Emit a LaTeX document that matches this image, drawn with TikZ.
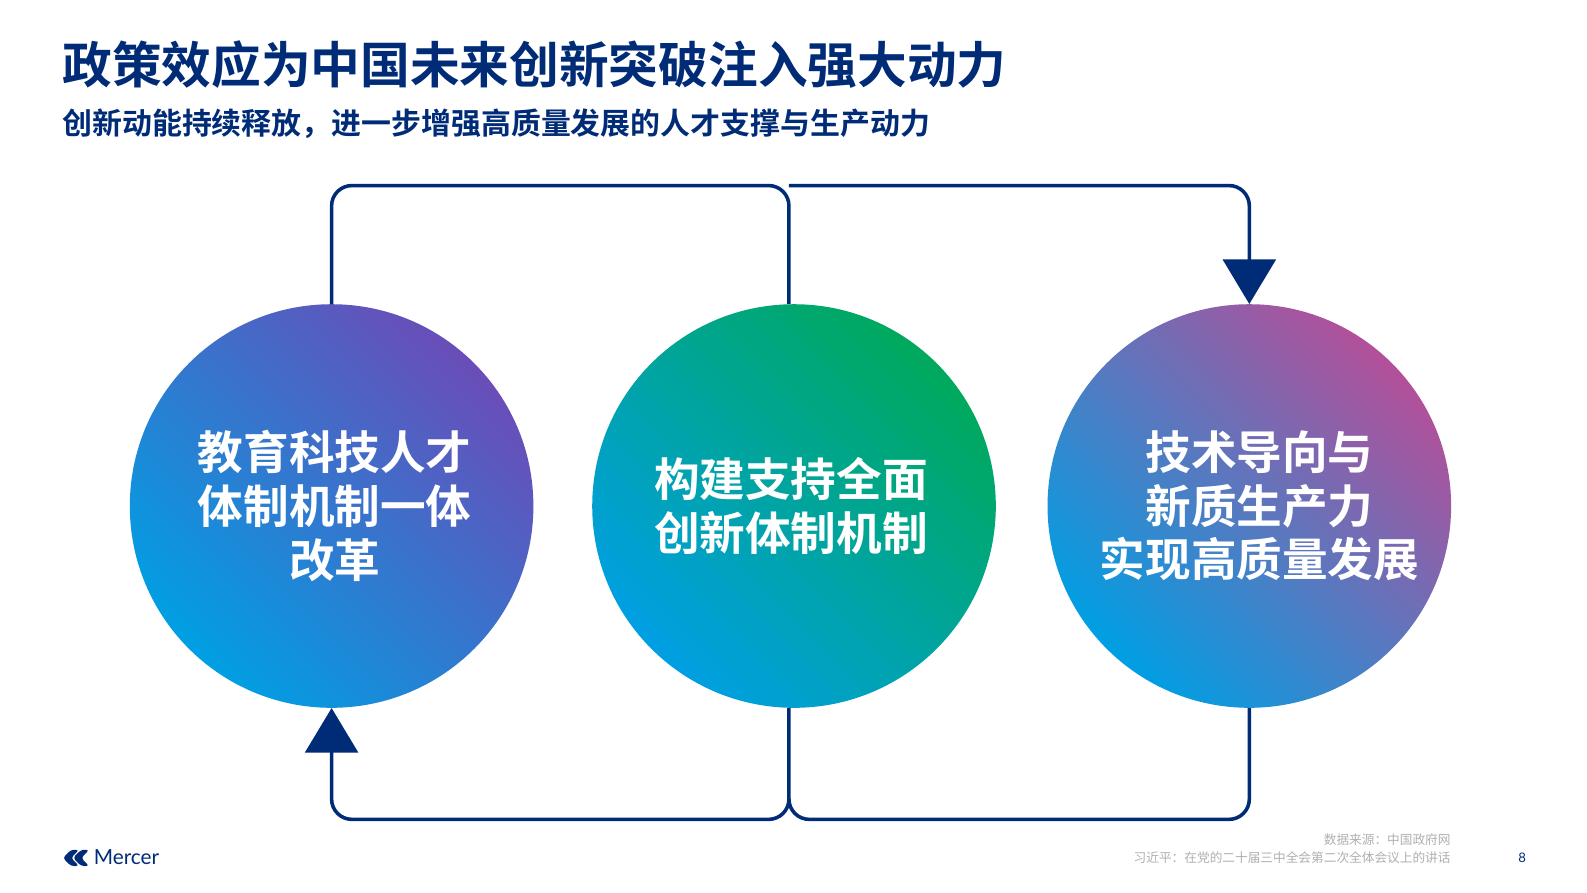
\documentclass[tikz,border=0pt]{standalone}
\usepackage{fontspec}
\newfontfamily\cjk{Noto Sans CJK SC}
\newfontfamily\cjkb{Noto Sans CJK SC Bold}
\setsansfont{Lato}
\usetikzlibrary{arrows.meta}
\definecolor{navy}{HTML}{002C77}
\definecolor{cblue}{HTML}{009FE3}
\definecolor{cpurp}{HTML}{6A4DB8}
\definecolor{cgreen}{HTML}{00A95C}
\definecolor{cmag}{HTML}{B3509A}
\definecolor{gr}{HTML}{B0B0B0}
\begin{document}
\begin{tikzpicture}[x=1pt,y=-1pt,
  conn/.style={draw=navy,line width=3.5pt,rounded corners=20pt},
  tip/.style={-{Triangle[length=44pt,width=52pt]}},
  ctext/.style={text=white,font=\cjkb\fontsize{45}{53}\selectfont,align=center}]
\fill[white] (0,0) rectangle (1587,892);
\node[anchor=west,text=navy,font=\cjkb\fontsize{49}{56}\selectfont] (title) at (58,64) {政策效应为中国未来创新突破注入强大动力};
\node[anchor=west,text=navy,font=\cjkb\fontsize{29.5}{34}\selectfont] (sub) at (58,122) {创新动能持续释放，进一步增强高质量发展的人才支撑与生产动力};
\shade[top color=cpurp,bottom color=cblue,shading angle=-45] (327,499) circle (199);
\shade[top color=cgreen,bottom color=cblue,shading angle=-45] (783,499) circle (199);
\shade[top color=cmag,bottom color=cblue,shading angle=-45] (1232,499) circle (199);
\node[circle,minimum size=398pt,inner sep=0] (c1) at (327,499) {};
\node[circle,minimum size=398pt,inner sep=0] (c2) at (783,499) {};
\node[circle,minimum size=398pt,inner sep=0] (c3) at (1232,499) {};
\node[ctext] (t1) at (330,499) {教育科技人才\\体制机制一体\\改革};
\node[ctext] (t2) at (780,499) {构建支持全面\\创新体制机制};
\node[ctext] (t3) at (1242,499) {技术导向与\\新质生产力\\实现高质量发展};
\coordinate (m) at (778,300);
\coordinate (mb) at (778,698);
\draw[conn] (c1.north) -- (327,183) -- (778,183) -- (m);
\draw[conn,tip] (778,183) -- (1232,183) -- (c3.north);
\draw[conn,tip] (mb) -- (778,808) -- (327,808) -- (c1.south);
\draw[conn] (c3.south) -- (1232,808) -- (778,808) -- (778,790);
\node[anchor=east,text=gr,font=\cjk\fontsize{12.5}{17}\selectfont,align=right] (src) at (1434,837) {数据来源：中国政府网\\习近平：在党的二十届三中全会第二次全体会议上的讲话};
\node[text=navy,font=\sffamily\fontsize{13}{14}\selectfont] (pg) at (1501,846) {8};
\fill[navy,rounded corners=3pt] (62,846) -- (70,838) -- (78,838) -- (70,846) -- (78,854) -- (70,854) -- cycle;
\fill[navy,rounded corners=3pt] (72,846) -- (80,838) -- (88,838) -- (80,846) -- (88,854) -- (80,854) -- cycle;
\node[anchor=west,text=navy,font=\sffamily\fontsize{20.5}{22}\selectfont] (logo) at (89,845) {Mercer};
\pgfresetboundingbox
\useasboundingbox (0,0) rectangle (1565,880);
\end{tikzpicture}
\end{document}
